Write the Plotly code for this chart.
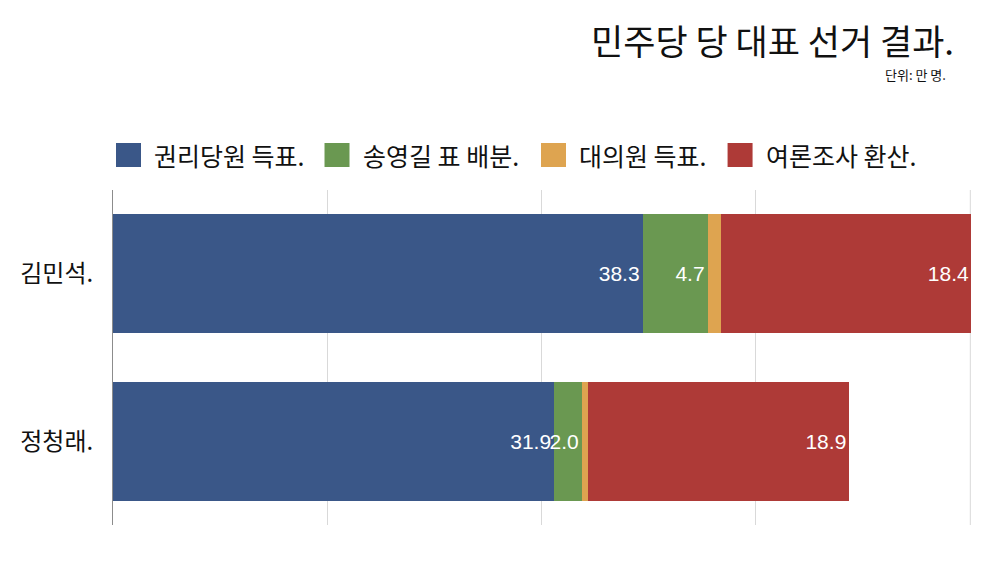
import plotly.graph_objects as go

# 단위: 만 명
candidates = ["김민석.", "정청래."]
series_names = ["권리당원 득표.", "송영길 표 배분.", "대의원 득표.", "여론조사 환산."]
party_members = [38.3, 31.9]
song_transfer = [4.7, 2.0]
delegates = [1.0, 0.45]
polls = [18.4, 18.9]

colors = ["#3a5788", "#6a9851", "#dea450", "#ae3a37"]
x_max = 62
grid_vals = [0, 15.5, 31, 46.5, 62]

kr_font = "Noto Sans CJK KR"
num_font = "Liberation Sans, Arial, sans-serif"
grid_col = "#d9d9d9"

series = [party_members, song_transfer, delegates, polls]
show_label = [True, True, False, True]
totals = [sum(v) for v in zip(*series)]

fig = go.Figure()
for i, (name, vals, col, lab) in enumerate(zip(series_names, series, colors, show_label)):
    labels = None
    if lab:
        labels = []
        for v, tot in zip(vals, totals):
            s = f"{v:.1f}"
            # last segment runs past the axis end: pull its label back inside
            if i == len(series) - 1 and tot > x_max:
                s += "\u2009"
            labels.append(s)
    fig.add_trace(go.Bar(
        y=candidates, x=vals, name=name, orientation="h",
        marker=dict(color=col, line=dict(width=0)),
        text=labels,
        textposition="inside" if lab else "none",
        insidetextanchor="end",
        constraintext="none",
        textangle=0,
        textfont=dict(family=num_font, size=21, color="white"),
        hoverinfo="x+name",
        showlegend=False,
    ))

# plotly skips the grid line sitting on the right edge, so draw that one
fig.add_shape(type="line", xref="x", yref="paper", x0=x_max, x1=x_max, y0=0, y1=1,
              line=dict(color=grid_col, width=1), layer="below")

# legend drawn by hand so the swatches can be the same size as the original
legend_px = [114, 323, 540, 727]
plot_l, plot_w = 111, 860
legend_y = 1.1045
for name, col, px in zip(series_names, colors, legend_px):
    xa = (px - plot_l) / plot_w
    fig.add_shape(type="rect", xref="paper", yref="paper",
                  xsizemode="pixel", ysizemode="pixel",
                  xanchor=xa, yanchor=legend_y,
                  x0=0, x1=25, y0=-12, y1=12,
                  fillcolor=col, line=dict(width=0))
    fig.add_annotation(text=name, xref="paper", yref="paper",
                       x=xa, y=legend_y, xanchor="left", yanchor="middle",
                       xshift=36, showarrow=False,
                       font=dict(family=kr_font, size=25, color="#111111"))

fig.add_annotation(text="민주당 당 대표 선거 결과.", xref="paper", yref="paper",
                   x=(956 - plot_l) / plot_w, y=1.4478, xanchor="right", yanchor="middle",
                   showarrow=False, font=dict(family=kr_font, size=35, color="#111111"))
fig.add_annotation(text="단위: 만 명.", xref="paper", yref="paper",
                   x=(948 - plot_l) / plot_w, y=1.3433, xanchor="right", yanchor="middle",
                   showarrow=False, font=dict(family=kr_font, size=13, color="#111111"))

# page body has an 8px margin, so the figure is 8px smaller and margins shifted
fig.update_layout(
    barmode="stack",
    bargap=0.29,
    width=992, height=555,
    margin=dict(l=103, r=29, t=182, b=38),
    plot_bgcolor="white", paper_bgcolor="white",
    font=dict(family=kr_font, color="#111111"),
    xaxis=dict(range=[0, x_max * 1.0008], tickvals=grid_vals, showticklabels=False,
               showgrid=True, gridcolor=grid_col, gridwidth=1,
               zeroline=False, showline=False, fixedrange=True),
    yaxis=dict(autorange="reversed", showline=True, linecolor="#8c8c8c",
               linewidth=1, ticks="", ticklabelstandoff=14,
               tickfont=dict(family=kr_font, size=24, color="#111111"),
               fixedrange=True),
)

fig.write_html("out.html")
